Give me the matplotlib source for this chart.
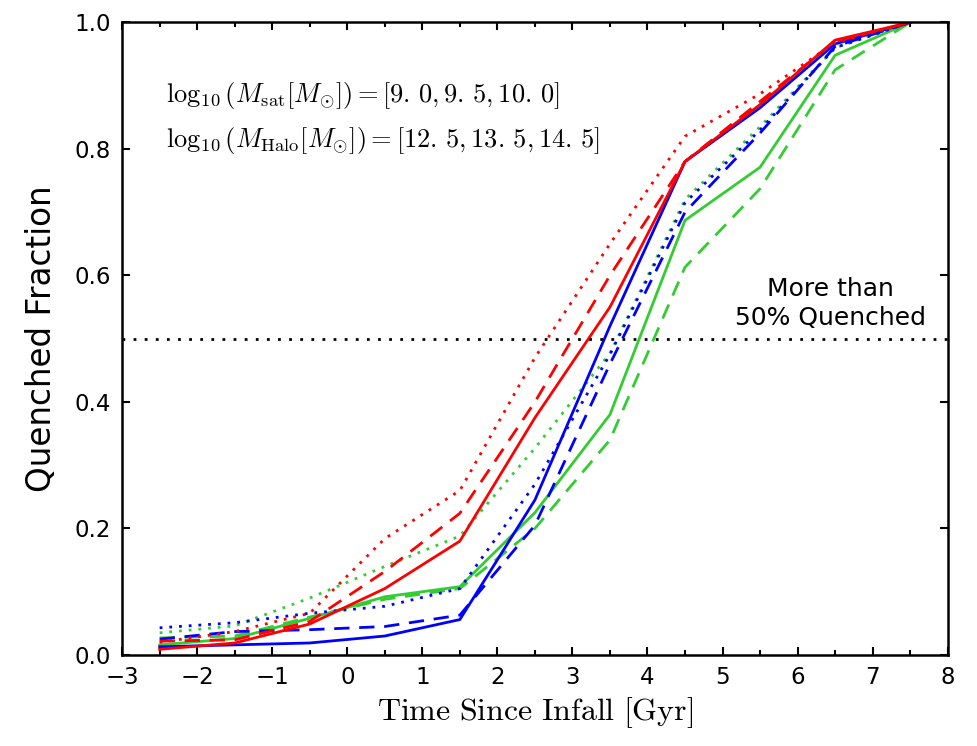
import matplotlib
matplotlib.use('Agg')
import matplotlib.pyplot as plt
from matplotlib.ticker import MultipleLocator

plt.rcParams['mathtext.fontset'] = 'cm'

# time since infall (bin centres)
t_infall = [-2.5, -1.5, -0.5, 0.5, 1.5, 2.5, 3.5, 4.5, 5.5, 6.5, 7.5]

# quenched fractions
blue_solid = [0.013, 0.016, 0.019, 0.030, 0.056, 0.245, 0.52, 0.78, 0.865, 0.966, 1.0]
blue_dashed = [0.025, 0.037, 0.040, 0.045, 0.063, 0.205, 0.46, 0.70, 0.825, 0.962, 1.0]
blue_dotted = [0.043, 0.051, 0.066, 0.077, 0.105, 0.270, 0.475, 0.715, 0.83, 0.96, 1.0]
green_solid = [0.016, 0.026, 0.058, 0.092, 0.108, 0.225, 0.38, 0.687, 0.771, 0.948, 1.0]
green_dashed = [0.027, 0.030, 0.060, 0.088, 0.105, 0.200, 0.34, 0.613, 0.737, 0.925, 1.0]
green_dotted = [0.035, 0.046, 0.090, 0.140, 0.188, 0.327, 0.477, 0.72, 0.835, 0.96, 1.0]
red_solid = [0.009, 0.019, 0.049, 0.105, 0.180, 0.375, 0.55, 0.78, 0.87, 0.972, 1.0]
red_dashed = [0.022, 0.024, 0.053, 0.132, 0.224, 0.40, 0.60, 0.78, 0.875, 0.97, 1.0]
red_dotted = [0.020, 0.037, 0.066, 0.184, 0.26, 0.47, 0.65, 0.82, 0.887, 0.968, 1.0]

blue = '#0000ff'
green = '#33cc33'
red = '#ff0000'
dash = (5.5, 3.5)
dot = (1, 2.5)

fig = plt.figure(figsize=(9.77, 7.46), dpi=100)
ax = fig.add_axes([0.125, 0.122, 0.845, 0.848])

#draw order roughly like the original (red on top)
ax.plot(t_infall, green_dotted, color=green, lw=2, dashes=dot)
ax.plot(t_infall, green_dashed, color=green, lw=2, dashes=dash)
ax.plot(t_infall, green_solid, color=green, lw=2)
ax.plot(t_infall, blue_dotted, color=blue, lw=2, dashes=dot)
ax.plot(t_infall, blue_dashed, color=blue, lw=2, dashes=dash)
ax.plot(t_infall, blue_solid, color=blue, lw=2)
ax.plot(t_infall, red_dotted, color=red, lw=2, dashes=dot)
ax.plot(t_infall, red_dashed, color=red, lw=2, dashes=dash)
ax.plot(t_infall, red_solid, color=red, lw=2)

ax.axhline(0.5, color='k', lw=2, dashes=(1, 3))

ax.set_xlim(-3, 8)
ax.set_ylim(0, 1)
ax.xaxis.set_major_locator(MultipleLocator(1))
ax.xaxis.set_minor_locator(MultipleLocator(0.5))
ax.yaxis.set_major_locator(MultipleLocator(0.2))
ax.tick_params(which='both', direction='in', top=True, right=True, width=1.5)
ax.tick_params(which='major', length=6, labelsize=16.5, pad=8)
ax.tick_params(which='minor', length=3.5)
for s in ax.spines.values():
    s.set_linewidth(1.8)

ax.set_xlabel(r'$\mathrm{Time\ Since\ Infall\ [Gyr]}$', fontsize=23, labelpad=4)
ax.set_ylabel('Quenched Fraction', fontsize=23.5, labelpad=12)

ax.text(-2.42, 0.885, r'$\log_{10}(M_{\rm sat}[M_{\odot}])=[9.\,0,9.\,5,10.\,0]$',
        fontsize=19, va='center')
ax.text(-2.42, 0.814, r'$\log_{10}(M_{\rm Halo}[M_{\odot}])=[12.\,5,13.\,5,14.\,5]$',
        fontsize=19, va='center')
ax.text(6.44, 0.556, 'More than\n50% Quenched', fontsize=18, ha='center', va='center',
        linespacing=1.25)

fig.savefig('out.png', dpi=100)
